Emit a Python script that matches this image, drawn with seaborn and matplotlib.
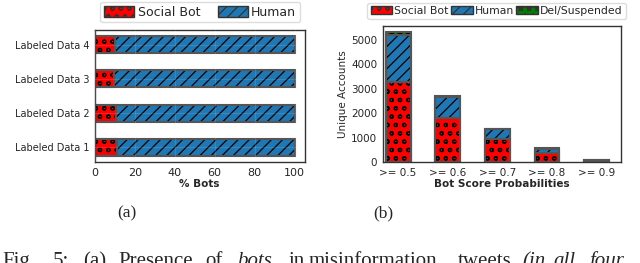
import matplotlib
matplotlib.use("Agg")
import matplotlib.pyplot as plt
from matplotlib.patches import Patch
import seaborn as sns

# (a) share of social bots per labeled dataset (%)
datasets = ["Labeled Data 4", "Labeled Data 3", "Labeled Data 2", "Labeled Data 1"]
bot_pct = [10.0, 9.7, 10.6, 10.9]
human_pct = [90.0, 90.3, 89.4, 89.1]

# (b) unique accounts per bot score threshold
thresholds = [">= 0.5", ">= 0.6", ">= 0.7", ">= 0.8", ">= 0.9"]
bot_cnt = [3290, 1810, 960, 360, 55]
human_cnt = [1915, 835, 385, 185, 30]
del_cnt = [110, 45, 20, 20, 15]

RED, BLUE, GREEN = "#ff0000", "#1f77b4", "#008000"
EDGE = "#555555"
H_BOT, H_HUM, H_DEL = "oo", "///", "**"


def layer(ax, cats, vals, color, hatch, orient):
    # filled + hatched bars, then a separate grey outline on top
    xy = dict(x=cats, y=vals) if orient == "v" else dict(x=vals, y=cats)
    n = len(ax.patches)
    sns.barplot(**xy, orient=orient, color=color, saturation=1, width=0.5,
                errorbar=None, edgecolor="black", linewidth=0, ax=ax)
    for p in ax.patches[n:]:
        p.set_hatch(hatch)
    n = len(ax.patches)
    sns.barplot(**xy, orient=orient, color=color, saturation=1, width=0.5,
                errorbar=None, ax=ax)
    for p in ax.patches[n:]:
        p.set_facecolor("none")
        p.set_edgecolor(EDGE)
        p.set_linewidth(1.5)


sns.set_style("white")
plt.rcParams["font.family"] = ["DejaVu Sans"]
plt.rcParams["hatch.linewidth"] = 0.9

fig = plt.figure(figsize=(6.4, 2.63), dpi=100)
ax1 = fig.add_axes([0.148, 0.384, 0.328, 0.502])
ax2 = fig.add_axes([0.598, 0.384, 0.373, 0.517])

# ---- (a) horizontal stacked bars
total_a = [b + h for b, h in zip(bot_pct, human_pct)]
layer(ax1, datasets, total_a, BLUE, H_HUM, "h")
layer(ax1, datasets, bot_pct, RED, H_BOT, "h")
ax1.set_xlim(0, 105)
ax1.set_ylim(3.43, -0.43)
ax1.set_xticks([0, 20, 40, 60, 80, 100])
ax1.set_xlabel("% Bots", fontsize=7.5, fontweight="bold", labelpad=1)
ax1.set_ylabel("")
ax1.tick_params(axis="x", labelsize=8, length=3, width=0.8, pad=1)
ax1.tick_params(axis="y", labelsize=7, length=3, width=0.8, pad=1)
ax1.grid(True, color="white", alpha=0.12, linewidth=0.8)
ax1.set_axisbelow(False)

h1 = [Patch(facecolor=RED, edgecolor="#333333", hatch=H_BOT, lw=1),
      Patch(facecolor=BLUE, edgecolor="#333333", hatch=H_HUM, lw=1)]
fig.legend(h1, ["Social Bot", "Human"], ncol=2, loc="center",
           bbox_to_anchor=(0.3125, 0.954), fontsize=9, handlelength=2.4,
           handleheight=1.0, handletextpad=0.3, columnspacing=1.4,
           borderpad=0.3, framealpha=1, edgecolor="#dddddd")

# ---- (b) vertical stacked bars
total_b = [b + h + d for b, h, d in zip(bot_cnt, human_cnt, del_cnt)]
bot_human = [b + h for b, h in zip(bot_cnt, human_cnt)]
layer(ax2, thresholds, total_b, GREEN, H_DEL, "v")
layer(ax2, thresholds, bot_human, BLUE, H_HUM, "v")
layer(ax2, thresholds, bot_cnt, RED, H_BOT, "v")
ax2.set_xlim(-0.31, 4.5)
ax2.set_ylim(0, 5570)
ax2.set_yticks([0, 1000, 2000, 3000, 4000, 5000])
ax2.set_xlabel("Bot Score Probabilities", fontsize=7.5, fontweight="bold", labelpad=1)
ax2.set_ylabel("Unique Accounts", fontsize=7.5, labelpad=2)
ax2.tick_params(labelsize=7.5, length=3, width=0.8, pad=1)

h2 = [Patch(facecolor=RED, edgecolor="#333333", hatch=H_BOT, lw=1),
      Patch(facecolor=BLUE, edgecolor="#333333", hatch=H_HUM, lw=1),
      Patch(facecolor=GREEN, edgecolor="#333333", hatch=H_DEL, lw=1)]
fig.legend(h2, ["Social Bot", "Human", "Del/Suspended"], ncol=3, loc="center",
           bbox_to_anchor=(0.776, 0.958), fontsize=7.8, handlelength=2.0,
           handleheight=0.8, handletextpad=0.2, columnspacing=0.2,
           borderpad=0.3, framealpha=1, edgecolor="#dddddd")

for ax in (ax1, ax2):
    for s in ax.spines.values():
        s.set_color("#333333")
        s.set_linewidth(1)

# ---- sub-captions and (cut-off) figure caption
serif = "Liberation Serif"
fig.text(127 / 640, 1 - 217.5 / 263, "(a)", family=serif, fontsize=12.5, ha="center", va="baseline")
fig.text(383 / 640, 1 - 217.5 / 263, "(b)", family=serif, fontsize=12.5, ha="center", va="baseline")

caption = [("Fig.", 2, "normal"), ("5:", 53, "normal"), ("(a)", 83, "normal"),
           ("Presence", 118, "normal"), ("of", 205, "normal"), ("bots", 237, "italic"),
           ("in", 289, "normal"), ("misinformation", 309, "normal"), ("tweets", 458, "normal"),
           ("(in", 522, "italic"), ("all", 553, "italic"), ("four", 590, "italic")]
for word, x, st in caption:
    fig.text(x / 640, 1 - 266 / 263, word, family=serif, fontsize=15, style=st,
             ha="left", va="baseline")

fig.savefig("out.png", dpi=100)
